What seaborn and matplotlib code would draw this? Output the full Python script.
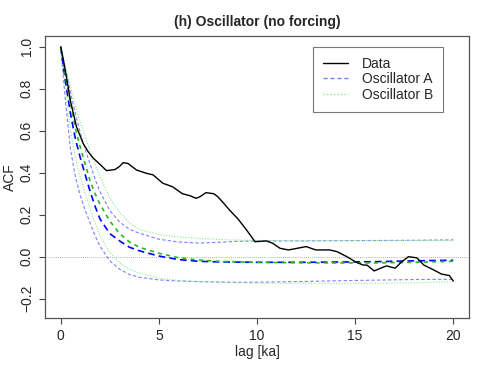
import numpy as np
import pandas as pd
import seaborn as sns
import matplotlib.pyplot as plt
from matplotlib.lines import Line2D

# -------------------------
# Data
# -------------------------
data_lag = [0, 0.15, 0.29, 0.5, 0.8, 1.14, 1.4, 1.65, 2.0, 2.33, 2.76, 3.0, 3.18, 3.43,
            3.86, 4.37, 4.7, 5.2, 5.7, 6.2, 6.6, 6.9, 7.1, 7.4, 7.8, 8.0, 8.3, 8.62,
            9.03, 9.47, 9.9, 10.48, 10.8, 11.17, 11.6, 11.9, 12.5, 13.0, 13.7, 14.07,
            14.58, 15.0, 15.4, 15.6, 15.97, 16.3, 16.6, 17.04, 17.38, 17.72, 18.15,
            18.5, 19.0, 19.4, 19.8, 20.0]
data_acf = [1.0, 0.93, 0.857, 0.74, 0.62, 0.54, 0.50, 0.47, 0.44, 0.41, 0.415, 0.43, 0.448,
            0.444, 0.413, 0.397, 0.39, 0.35, 0.333, 0.30, 0.29, 0.278, 0.286, 0.305,
            0.30, 0.286, 0.255, 0.22, 0.18, 0.127, 0.071, 0.075, 0.064, 0.04, 0.032,
            0.037, 0.048, 0.032, 0.032, 0.024, 0.0, -0.024, -0.04, -0.04, -0.068,
            -0.055, -0.044, -0.055, -0.024, 0.0, -0.006, -0.04, -0.063, -0.083,
            -0.09, -0.116]

model_lag = [0, 0.25, 0.5, 0.75, 1.0, 1.25, 1.5, 1.75, 2.0, 2.5, 3.0, 3.5, 4.0, 5.0,
             6.0, 7.0, 8.0, 9.0, 10.0, 12.0, 14.0, 16.0, 18.0, 20.0]
osc_a_low = [1.0, 0.73, 0.51, 0.38, 0.29, 0.22, 0.16, 0.10, 0.05, -0.02, -0.06, -0.085,
             -0.098, -0.111, -0.116, -0.119, -0.121, -0.122, -0.122, -0.119, -0.115,
             -0.112, -0.109, -0.108]
osc_a_mid = [1.0, 0.83, 0.68, 0.56, 0.47, 0.39, 0.31, 0.24, 0.18, 0.11, 0.075, 0.045,
             0.028, 0.003, -0.014, -0.022, -0.025, -0.026, -0.027, -0.027, -0.026,
             -0.024, -0.02, -0.017]
osc_a_high = [1.0, 0.89, 0.78, 0.68, 0.59, 0.51, 0.44, 0.37, 0.31, 0.22, 0.165, 0.13,
              0.112, 0.083, 0.07, 0.065, 0.068, 0.073, 0.075, 0.075, 0.076, 0.077,
              0.078, 0.08]
osc_b_low = [1.0, 0.78, 0.6, 0.47, 0.38, 0.30, 0.23, 0.16, 0.10, 0.02, -0.03, -0.06,
             -0.078, -0.103, -0.113, -0.119, -0.122, -0.125, -0.126, -0.127, -0.127,
             -0.127, -0.125, -0.119]
osc_b_mid = [1.0, 0.86, 0.73, 0.61, 0.52, 0.44, 0.36, 0.30, 0.25, 0.17, 0.11, 0.07,
             0.045, 0.016, -0.005, -0.016, -0.022, -0.025, -0.027, -0.029, -0.03,
             -0.03, -0.027, -0.022]
osc_b_high = [1.0, 0.9, 0.81, 0.72, 0.64, 0.57, 0.50, 0.44, 0.38, 0.28, 0.21, 0.16,
              0.13, 0.105, 0.094, 0.087, 0.082, 0.079, 0.077, 0.076, 0.076, 0.076,
              0.077, 0.077]

sns.set_style("white")
plt.rcParams["font.family"] = ["Liberation Sans", "DejaVu Sans"]

fig = plt.figure(figsize=(4.79, 3.65), dpi=100)
ax = fig.add_axes([0.094, 0.129, 0.885, 0.772])

ax.axhline(0, color="#999999", lw=0.6, ls=(0, (1, 1.5)))

light_blue = "#7f7fff"
light_green = "#80f080"

# model envelopes
for arr in [osc_a_low, osc_a_high]:
    sns.lineplot(x=model_lag, y=arr, ax=ax, color=light_blue, lw=0.8,
                 linestyle=(0, (3, 2)))
for arr in [osc_b_low, osc_b_high]:
    sns.lineplot(x=model_lag, y=arr, ax=ax, color=light_green, lw=0.8,
                 linestyle=(0, (1, 1.5)))

# model means
sns.lineplot(x=model_lag, y=osc_a_mid, ax=ax, color="#0000ff", lw=1.2,
             linestyle=(0, (4, 2.5)))
sns.lineplot(x=model_lag, y=osc_b_mid, ax=ax, color="#22bb22", lw=1.2,
             linestyle=(0, (2.5, 2.5)))

# data
sns.lineplot(x=data_lag, y=data_acf, ax=ax, color="black", lw=1.0)

ax.set_xlim(-0.8, 20.8)
ax.set_ylim(-0.292, 1.051)
ax.set_xticks([0, 5, 10, 15, 20])
ax.set_yticks([-0.2, 0.0, 0.2, 0.4, 0.6, 0.8, 1.0])
ax.set_yticklabels(["\u22120.2", "0.0", "0.2", "0.4", "0.6", "0.8", "1.0"],
                   rotation=90, va="center")
ax.tick_params(direction="out", length=4, width=0.8, color="#444444",
               labelsize=10, pad=4, bottom=True, left=True)
for s in ax.spines.values():
    s.set_color("#555555")
    s.set_linewidth(0.9)

ax.set_xlabel("lag [ka]", fontsize=10)
ax.set_ylabel("ACF", fontsize=10)
ax.yaxis.set_label_coords(-0.066, 0.5)
ax.xaxis.set_label_coords(0.5, -0.096)
ax.set_title("(h) Oscillator (no forcing)", fontsize=10, fontweight="bold", pad=7)

handles = [
    Line2D([], [], color="black", lw=1.0),
    Line2D([], [], color=light_blue, lw=1.0, linestyle=(0, (3, 2))),
    Line2D([], [], color=light_green, lw=1.0, linestyle=(0, (1, 1.5))),
]
leg = ax.legend(handles, ["Data", "Oscillator A", "Oscillator B"],
                loc="upper right", bbox_to_anchor=(0.939, 0.962), fontsize=10,
                frameon=True, fancybox=False, handlelength=1.8,
                borderpad=0.7, labelspacing=0.12, handletextpad=1.0,
                borderaxespad=0)
leg.get_frame().set_edgecolor("#555555")
leg.get_frame().set_linewidth(0.8)

fig.savefig("out.png", dpi=100)
